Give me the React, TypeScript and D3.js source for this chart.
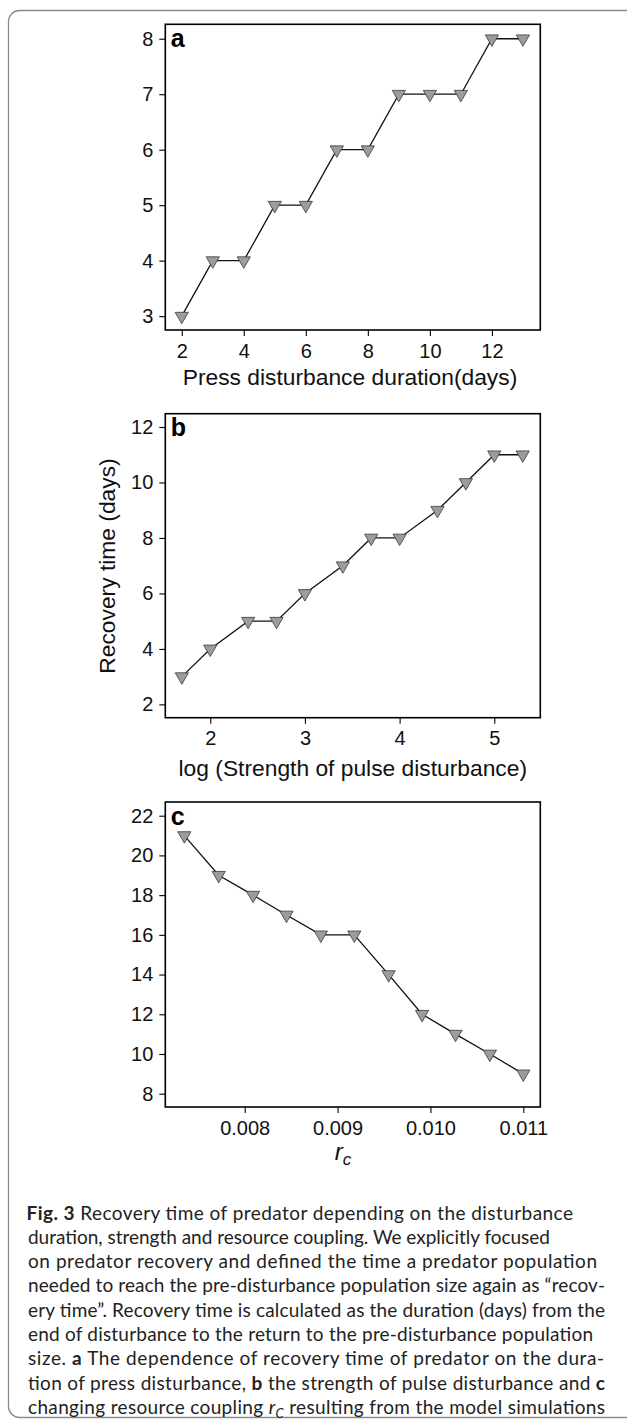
import React, { useEffect, useRef } from 'react';
import * as d3 from 'd3';

// panel a: press disturbance duration
const pressDays = [2, 3, 4, 5, 6, 7, 8, 9, 10, 11, 12, 13];
const pressRecovery = [3, 4, 4, 5, 5, 6, 6, 7, 7, 7, 8, 8];
const pressXTicks = [2, 4, 6, 8, 10, 12];
const pressYTicks = [3, 4, 5, 6, 7, 8];

// panel b: log strength of pulse disturbance
const pulseLogStrength = [1.7, 2, 2.4, 2.7, 3, 3.4, 3.7, 4, 4.4, 4.7, 5, 5.3];
const pulseRecovery = [3, 4, 5, 5, 6, 7, 8, 8, 9, 10, 11, 11];
const pulseXTicks = [2, 3, 4, 5];
const pulseYTicks = [2, 4, 6, 8, 10, 12];

// panel c: resource coupling r_c
const couplingRc = [0.00735, 0.00772, 0.00809, 0.00845, 0.00882, 0.00918, 0.00955, 0.00991, 0.01027, 0.01064, 0.011];
const couplingRecovery = [21, 19, 18, 17, 16, 16, 14, 12, 11, 10, 9];
const couplingXTicks = [0.008, 0.009, 0.01, 0.011];
const couplingYTicks = [8, 10, 12, 14, 16, 18, 20, 22];

const AXIS_FONT = '"Liberation Sans", Arial, sans-serif';
const CAP_FONT = 'Lato, "Open Sans", sans-serif';

const Panel = ({ xs, ys, xDomain, yDomain, xTicks, yTicks, xFormat, top, bottom, label }) => {
  const ref = useRef(null);
  const left = 165.3;
  const right = 540.3;

  useEffect(() => {
    const x = d3.scaleLinear().domain(xDomain).range([left, right]);
    const y = d3.scaleLinear().domain(yDomain).range([bottom, top]);
    const g = d3.select(ref.current);
    g.selectAll('*').remove();

    const xAxis = g
      .append('g')
      .attr('transform', `translate(0,${bottom})`)
      .call(d3.axisBottom(x).tickValues(xTicks).tickSize(6).tickPadding(7.5).tickFormat(xFormat));
    const yAxis = g
      .append('g')
      .attr('transform', `translate(${left},0)`)
      .call(d3.axisLeft(y).tickValues(yTicks).tickSize(6).tickPadding(6).tickFormat(d3.format('d')));

    [xAxis, yAxis].forEach(ax => {
      ax.select('.domain').remove();
      ax.selectAll('line').attr('stroke', '#000').attr('stroke-width', 1.1);
      ax.selectAll('text')
        .attr('fill', '#111')
        .style('font-family', AXIS_FONT)
        .style('font-size', '20px');
    });

    g.append('rect')
      .attr('x', left)
      .attr('y', top)
      .attr('width', right - left)
      .attr('height', bottom - top)
      .attr('fill', 'none')
      .attr('stroke', '#000')
      .attr('stroke-width', 1.6);

    const pts = xs.map((v, i) => [v, ys[i]]);
    const line = d3
      .line()
      .x(d => x(d[0]))
      .y(d => y(d[1]));

    g.append('path')
      .attr('d', line(pts))
      .attr('fill', 'none')
      .attr('stroke', '#111')
      .attr('stroke-width', 1.3);

    const tri = d3.symbol().type(d3.symbolTriangle).size(76);
    g.selectAll('path.mark')
      .data(pts)
      .enter()
      .append('path')
      .attr('class', 'mark')
      .attr('d', tri)
      .attr('transform', d => `translate(${x(d[0])},${y(d[1])}) rotate(180)`)
      .attr('fill', '#9c9c9c')
      .attr('stroke', '#3a3a3a')
      .attr('stroke-width', 0.8);

    g.append('text')
      .attr('x', left + 5.5)
      .attr('y', top + 22.7)
      .attr('font-family', AXIS_FONT)
      .attr('font-weight', 'bold')
      .attr('font-size', 25)
      .text(label);
  }, []);

  return <g ref={ref} />;
};

const captionLines = [
  [['Fig. 3', 'b'], ['  Recovery time of predator depending on the disturbance', '']],
  [['duration, strength and resource coupling. We explicitly focused', '']],
  [['on predator recovery and defined the time a predator population', '']],
  [['needed to reach the pre-disturbance population size again as \u201crecov-', '']],
  [['ery time\u201d. Recovery time is calculated as the duration (days) from the', '']],
  [['end of disturbance to the return to the pre-disturbance population', '']],
  [['size. ', ''], ['a', 'b'], [' The dependence of recovery time of predator on the dura-', '']],
  [['tion of press disturbance, ', ''], ['b', 'b'], [' the strength of pulse disturbance and ', ''], ['c', 'b']],
  [['changing resource coupling ', ''], ['r', 'i'], ['C', 'sub'], [' resulting from the model simulations', '']],
];
const captionEnds = [573, 550, 597, 605, 605, 593, 604, 605, 605];

export default function App() {
  return (
    <svg
      width={627}
      height={1422}
      style={{ position: 'absolute', left: 0, top: 0, background: '#fff' }}
    >
      <rect x={8.5} y={10.5} width={660} height={1407} rx={11} fill="#fff" stroke="#8a8a8a" strokeWidth={1.3} />

      <Panel
        xs={pressDays}
        ys={pressRecovery}
        xDomain={[1.47, 13.56]}
        yDomain={[2.75, 8.26]}
        xTicks={pressXTicks}
        yTicks={pressYTicks}
        xFormat={d3.format('d')}
        top={24.3}
        bottom={330}
        label="a"
      />
      <Panel
        xs={pulseLogStrength}
        ys={pulseRecovery}
        xDomain={[1.525, 5.486]}
        yDomain={[1.52, 12.48]}
        xTicks={pulseXTicks}
        yTicks={pulseYTicks}
        xFormat={d3.format('d')}
        top={413.7}
        bottom={717.7}
        label="b"
      />
      <Panel
        xs={couplingRc}
        ys={couplingRecovery}
        xDomain={[0.007145, 0.011183]}
        yDomain={[7.33, 22.69]}
        xTicks={couplingXTicks}
        yTicks={couplingYTicks}
        xFormat={d3.format('.3f')}
        top={802}
        bottom={1107}
        label="c"
      />

      <g fontFamily={AXIS_FONT} fontSize={22.8} fill="#111" textAnchor="middle">
        <text x={350} y={385}>Press disturbance duration(days)</text>
        <text x={352.8} y={776}>log (Strength of pulse disturbance)</text>
        <text transform="translate(115,566) rotate(-90)">Recovery time (days)</text>
        <text x={343} y={1160} fontStyle="italic" fontSize={24}>
          r<tspan fontSize={17} dy={5}>c</tspan>
        </text>
      </g>

      <g fontFamily={CAP_FONT} fontSize={19} fill="#222">
        {captionLines.map((segs, i) => {
          const x0 = i === 0 ? 26.5 : 28;
          return (
            <text
              key={i}
              x={x0}
              y={1219.5 + i * 24.3}
              textLength={captionEnds[i] - x0}
              lengthAdjust="spacing"
            >
              {segs.map(([t, s], j) => (
                <tspan
                  key={j}
                  fontWeight={s === 'b' ? 'bold' : undefined}
                  fontStyle={s === 'i' || s === 'sub' ? 'italic' : undefined}
                  fontSize={s === 'sub' ? 13 : undefined}
                  dy={s === 'sub' ? 4 : j > 0 && segs[j - 1][1] === 'sub' ? -4 : undefined}
                >
                  {t}
                </tspan>
              ))}
            </text>
          );
        })}
      </g>
    </svg>
  );
}
